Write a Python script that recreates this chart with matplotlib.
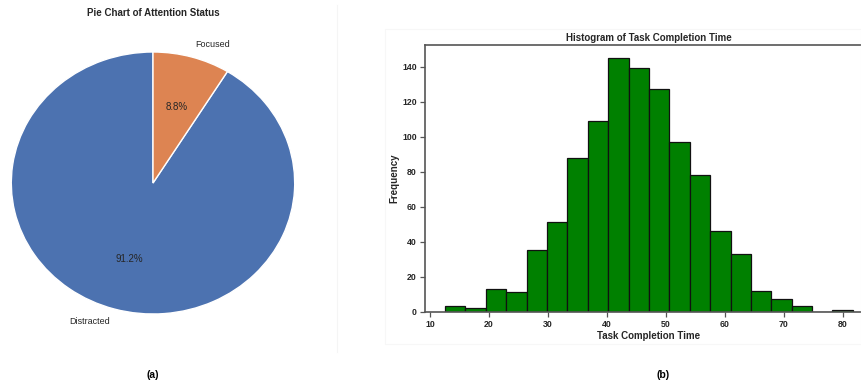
import numpy as np
import matplotlib
matplotlib.use("Agg")
import matplotlib.pyplot as plt
from matplotlib.patches import Rectangle
from matplotlib.lines import Line2D

# ---- data ----
attention_labels = ["Distracted", "Focused"]
attention_share = [91.2, 8.8]
attention_colors = ["#4C72B0", "#DD8452"]

hist_first_edge = 12.55
hist_last_edge = 81.75
hist_counts = [3, 2, 13, 11, 35, 51, 88, 109, 145, 139, 127, 97, 78, 46, 33, 12, 7, 3, 0, 1]

x_ticks = [10, 20, 30, 40, 50, 60, 70, 80]
y_ticks = [0, 20, 40, 60, 80, 100, 120, 140]

plt.rcParams["font.family"] = ["Liberation Sans", "DejaVu Sans"]

W, H = 861, 387
fig = plt.figure(figsize=(W / 100, H / 100), dpi=100)
fig.patch.set_facecolor("white")

# faint panel borders
fig.add_artist(Line2D([337 / W, 337 / W], [1 - 5 / H, 1 - 352 / H], transform=fig.transFigure,
                      color="#f5f5f5", linewidth=0.8))
fig.add_artist(Rectangle((385 / W, 1 - 344 / H), (861 - 385) / W, (344 - 29) / H,
                         transform=fig.transFigure, fill=False, edgecolor="#f7f7f7",
                         linewidth=0.8))

# ---- pie ----
cx, cy, rx, ry = 153, 183, 141.7, 131
axp = fig.add_axes([(cx - rx) / W, (H - cy - ry) / H, 2 * rx / W, 2 * ry / H])
wedges, texts, autotexts = axp.pie(
    attention_share, labels=attention_labels, colors=attention_colors,
    autopct="%1.1f%%", startangle=90,
    wedgeprops=dict(edgecolor="white", linewidth=1.0),
    textprops=dict(fontsize=6.5, color="#262626"))
for t in texts + autotexts:
    t.set_clip_on(False)
for t in autotexts:
    t.set_fontsize(7)
axp.set_xlim(-1, 1)
axp.set_ylim(-1, 1)
axp.set_aspect("auto")
axp.axis("off")
fig.text(cx / W, 1 - 13 / H, "Pie Chart of Attention Status", ha="center", va="center",
         fontsize=7, fontweight="bold", color="#262626")

# ---- histogram ----
edges = np.linspace(hist_first_edge, hist_last_edge, len(hist_counts) + 1)
axh = fig.add_axes([425 / W, (H - 311.7) / H, (872 - 425) / W, (311.7 - 45) / H])
axh.hist(edges[:-1], bins=edges, weights=hist_counts, color="green",
         edgecolor="#111111", linewidth=0.9)
axh.set_xlim(9.15, 85.0)
axh.set_ylim(0, 152.3)
axh.set_xticks(x_ticks)
axh.set_yticks(y_ticks)
axh.tick_params(axis="both", labelsize=6.3, length=3.5, width=0.9, pad=2.5,
                color="#555555", labelcolor="#262626")
for lab in axh.get_xticklabels() + axh.get_yticklabels():
    lab.set_fontweight("bold")
for s in ["top", "right", "left", "bottom"]:
    axh.spines[s].set_linewidth(1.2)
    axh.spines[s].set_color("#555555")
axh.set_title("Histogram of Task Completion Time", fontsize=7, fontweight="bold",
              pad=3, color="#262626")
axh.set_xlabel("Task Completion Time", fontsize=7, fontweight="bold", labelpad=1.5,
               color="#262626")
axh.set_ylabel("Frequency", fontsize=7, fontweight="bold", labelpad=2, color="#262626")

# ---- panel labels ----
fig.text(153 / W, 1 - 375 / H, "(a)", ha="center", va="center", fontsize=7.5, fontweight="bold")
fig.text(663 / W, 1 - 375 / H, "(b)", ha="center", va="center", fontsize=7.5, fontweight="bold")

fig.savefig("out.png", dpi=100, facecolor="white")
